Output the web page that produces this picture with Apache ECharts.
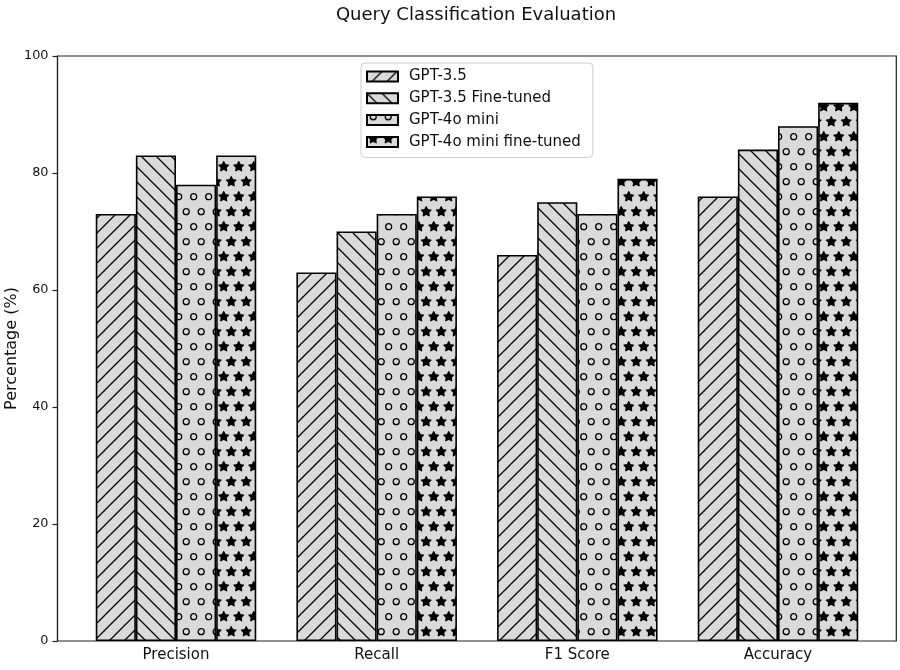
<!DOCTYPE html>
<html lang="en">

<head>
    <meta charset="UTF-8">
    <title>Query Classification Evaluation</title>
    <style>
        html,
        body {
            margin: 0;
            padding: 0;
            background: #fff;
        }

        #box {
            width: 900px;
            height: 670px;
        }
    </style>
    <script src="https://cdn.jsdelivr.net/npm/echarts@6/dist/echarts.min.js"></script>
</head>

<body>
    <div id="box"></div>
    <script>
        // data
        const categories = ['Precision', 'Recall', 'F1 Score', 'Accuracy'];
        const modelNames = ['GPT-3.5', 'GPT-3.5 Fine-tuned', 'GPT-4o mini', 'GPT-4o mini fine-tuned'];
        const gpt35 = [73, 63, 66, 76];
        const gpt35Tuned = [83, 70, 75, 84];
        const gpt4oMini = [78, 73, 73, 88];
        const gpt4oMiniTuned = [83, 76, 79, 92];
        const yMin = 0, yMax = 100, yStep = 20;

        (function () {
            const font = 'DejaVu Sans';
            const ink = '#111';

            // hatch tiles like matplotlib: '/', '\\', 'o', '*'
            function hatch(kind) {
                let c = document.createElement('canvas');
                c.width = 15;
                c.height = (kind === 'o' || kind === '*') ? 30 : 15;
                let ctx = c.getContext('2d');
                ctx.fillStyle = '#dadada';
                ctx.fillRect(0, 0, c.width, c.height);
                ctx.strokeStyle = '#000';
                ctx.fillStyle = '#000';
                ctx.lineWidth = 1.3;
                ctx.lineJoin = 'round';

                if (kind === '/' || kind === '\\') {
                    let segs = kind === '/'
                        ? [[-1, 16, 16, -1], [-1, 1, 1, -1], [14, 16, 16, 14]]
                        : [[-1, -1, 16, 16], [14, -1, 16, 1], [-1, 14, 1, 16]];
                    ctx.beginPath();
                    segs.forEach(s => { ctx.moveTo(s[0], s[1]); ctx.lineTo(s[2], s[3]); });
                    ctx.stroke();
                    return c;
                }

                // staggered rows, 15px apart
                let pts = [[6.2, 1.7], [13.7, 16.7]];
                pts.forEach(p => {
                    for (let dx = -15; dx <= 15; dx += 15) {
                        for (let dy = -30; dy <= 30; dy += 30) {
                            let x = p[0] + dx, y = p[1] + dy;
                            ctx.beginPath();
                            if (kind === 'o') {
                                ctx.arc(x, y, 3, 0, Math.PI * 2);
                                ctx.stroke();
                            } else {
                                for (let k = 0; k < 10; k++) {
                                    let r = k % 2 ? 2.5 : 5;
                                    let a = -Math.PI / 2 + k * Math.PI / 5;
                                    let px = x + r * Math.cos(a), py = y + r * Math.sin(a);
                                    k ? ctx.lineTo(px, py) : ctx.moveTo(px, py);
                                }
                                ctx.closePath();
                                ctx.fill();
                                ctx.stroke();
                            }
                        }
                    }
                });
                return c;
            }

            const values = [gpt35, gpt35Tuned, gpt4oMini, gpt4oMiniTuned];
            const hatches = ['/', '\\', 'o', '*'];

            let option = {
                animation: false,
                title: {
                    text: 'Query Classification Evaluation',
                    left: 471,
                    top: 1,
                    textAlign: 'center',
                    textStyle: { fontFamily: font, fontSize: 18, fontWeight: 'normal', color: ink }
                },
                legend: {
                    orient: 'vertical',
                    left: 361,
                    top: 63,
                    data: modelNames,
                    icon: 'rect',
                    itemWidth: 31,
                    itemHeight: 10,
                    itemGap: 6.8,
                    padding: [6, 12, 8, 5],
                    borderColor: '#cccccc',
                    borderWidth: 1,
                    borderRadius: 4,
                    backgroundColor: '#fff',
                    selectedMode: false,
                    textStyle: { fontFamily: font, fontSize: 15, lineHeight: 15, color: ink, padding: [0, 0, 0, 6] }
                },
                // grid 0: frame and y axis, grid 1: bars on category bands
                grid: [
                    { left: 57.5, right: 3.7, top: 56, bottom: 29, show: true, borderColor: '#222', borderWidth: 1.2, backgroundColor: 'transparent', containLabel: false, outerBoundsMode: 'none' },
                    { left: 75.67, right: 21.67, top: 56, bottom: 29, containLabel: false, outerBoundsMode: 'none' }
                ],
                xAxis: [
                    { gridIndex: 0, type: 'value', min: 0, max: 1, show: false },
                    {
                        gridIndex: 1,
                        type: 'category',
                        data: categories,
                        axisLine: { show: false },
                        axisTick: { alignWithLabel: true, length: 5, lineStyle: { color: '#222', width: 1.2 } },
                        axisLabel: { margin: 7, fontFamily: font, fontSize: 15, color: ink },
                        splitLine: { show: false }
                    }
                ],
                yAxis: [
                    {
                        gridIndex: 0,
                        type: 'value',
                        min: yMin,
                        max: yMax,
                        interval: yStep,
                        axisLine: { show: true, lineStyle: { color: '#222', width: 1.2 } },
                        axisTick: { show: true, length: 5, lineStyle: { color: '#222', width: 1.2 } },
                        axisLabel: { margin: 9, fontFamily: font, fontSize: 12.8, color: ink },
                        splitLine: { show: false },
                        name: 'Percentage (%)',
                        nameLocation: 'middle',
                        nameGap: 38,
                        nameMoveOverlap: false,
                        nameTextStyle: { fontFamily: font, fontSize: 16, color: ink }
                    },
                    { gridIndex: 1, type: 'value', min: yMin, max: yMax, show: false }
                ],
                series: values.map((d, i) => ({
                    name: modelNames[i],
                    type: 'bar',
                    xAxisIndex: 1,
                    yAxisIndex: 1,
                    data: d,
                    barWidth: '20%',
                    barGap: '0%',
                    itemStyle: {
                        color: { image: hatch(hatches[i]), repeat: 'repeat' },
                        borderColor: '#000',
                        borderWidth: 1.6
                    },
                    emphasis: { disabled: true }
                }))
            };

            let chart = echarts.init(box, null, { renderer: 'canvas' });
            chart.setOption(option);
        })();
    </script>
</body>

</html>
